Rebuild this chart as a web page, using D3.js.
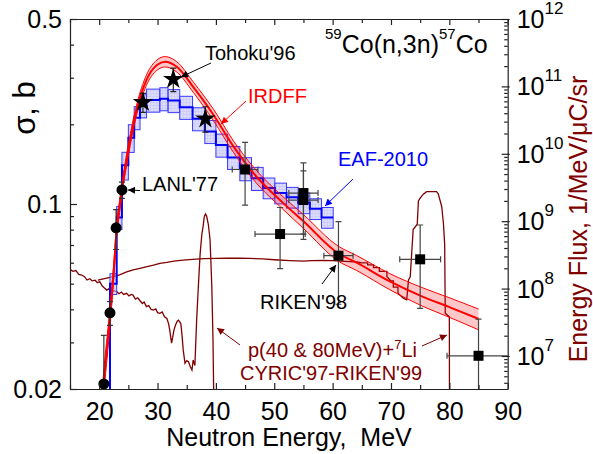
<!DOCTYPE html>
<html>
<head>
<meta charset="utf-8">
<script src="https://cdn.jsdelivr.net/npm/d3@7"></script>
<style>
body { margin: 0; background: #fff; }
text { font-family: "Liberation Sans", Arial, sans-serif; }
</style>
</head>
<body>
<script>
// IRDFF evaluation: energy (MeV), cross section (b), relative uncertainty
var irdE = [20.6, 21.0, 21.5, 22.0, 22.5, 23.0, 23.5, 24.0, 25.0, 26.4, 28.1, 29.9, 31.3, 33.3, 36.1, 39.6, 43.0, 46.4, 51.5, 55.0, 61.0, 64.1, 69.8, 75.5, 80.1, 85.0];
var irdV = [0.019, 0.024, 0.031, 0.041, 0.056, 0.080, 0.098, 0.118, 0.160, 0.226, 0.294, 0.335, 0.345, 0.330, 0.277, 0.217, 0.165, 0.131, 0.101, 0.086, 0.065, 0.060, 0.051, 0.0446, 0.0407, 0.0368];
var irdU = [0.10, 0.10, 0.09, 0.08, 0.07, 0.06, 0.055, 0.05, 0.05, 0.045, 0.045, 0.045, 0.045, 0.045, 0.045, 0.05, 0.05, 0.055, 0.055, 0.06, 0.065, 0.065, 0.07, 0.08, 0.085, 0.09];

// EAF-2010 group-wise: bin edges (MeV), values (b), relative uncertainty
var eafEdges = [20.0, 21.85, 23.0, 23.9, 25.0, 26.0, 27.0, 28.1, 30.4, 31.8, 33.8, 36.0, 38.1, 40.0, 42.0, 44.1, 46.1, 48.1, 50.1, 52.1, 54.1, 56.1, 58.1, 60.1];
var eafV = [0.010, 0.050, 0.089, 0.140, 0.178, 0.212, 0.235, 0.247, 0.250, 0.246, 0.232, 0.210, 0.188, 0.167, 0.150, 0.136, 0.125, 0.115, 0.110, 0.106, 0.101, 0.096, 0.089];
var eafU = [0.10, 0.09, 0.10, 0.12, 0.12, 0.10, 0.10, 0.10, 0.10, 0.10, 0.10, 0.10, 0.10, 0.10, 0.10, 0.10, 0.10, 0.09, 0.09, 0.09, 0.09, 0.09, 0.09];

// Tohoku'96 (stars)
var tohE = [27.5, 32.7, 38.2];
var tohV = [0.242, 0.296, 0.210];
var tohErr = [0.020, 0.030, 0.023];

// LANL'77 (circles)
var lanlE = [20.8, 21.85, 22.9, 23.9];
var lanlV = [0.0209, 0.0388, 0.0813, 0.113];
var lanlErr = [0.011, 0.004, 0.014, 0.008];

// RIKEN / CYRIC measurements (squares)
var sqE = [45.0, 51.0, 55.0, 55.0, 61.0, 75.0, 85.0];
var sqV = [0.135, 0.077, 0.110, 0.1035, 0.0638, 0.0618, 0.0267];
var sqErrY = [0.036, 0.020, 0.033, 0.030, 0.022, 0.0215, 0.010];
var sqErrX = [2.2, 4.3, 2.5, 2.5, 2.5, 3.5, 5.4];

// neutron spectra, p(40 MeV)+7Li and p(80 MeV)+7Li (1/MeV/uC/sr)
var p40E = [15.0, 15.5, 16.0, 16.5, 17.0, 17.5, 17.9, 18.4, 18.8, 19.3, 19.7, 20.1, 20.5, 20.9, 21.3, 21.7, 22.1, 22.5, 23.0, 23.4, 23.8, 24.2, 24.7, 25.1, 25.5, 25.8, 26.2, 26.6, 27.0, 27.4, 27.7, 28.1, 28.5, 28.9, 29.3, 29.7, 30.0, 30.4, 30.8, 31.2, 31.6, 31.9, 32.1, 32.4, 32.6, 32.8, 33.1, 33.4, 33.6, 33.8, 34.0, 34.2, 34.4, 34.7, 35.0, 35.3, 35.6, 35.9, 36.1, 36.4, 36.7, 37.0, 37.3, 37.6, 37.8, 38.0, 38.2, 38.4, 38.7, 39.0, 39.3, 39.5, 39.6, 39.7];
var p40F = [1.93e8, 1.80e8, 1.85e8, 1.62e8, 1.59e8, 1.50e8, 1.34e8, 1.40e8, 1.30e8, 1.33e8, 1.22e8, 1.27e8, 1.10e8, 1.02e8, 0.95e8, 1.00e8, 0.88e8, 0.93e8, 0.90e8, 0.84e8, 0.89e8, 0.82e8, 0.85e8, 0.78e8, 0.82e8, 0.80e8, 0.70e8, 0.73e8, 0.66e8, 0.60e8, 0.63e8, 0.54e8, 0.56e8, 0.49e8, 0.48e8, 0.50e8, 0.44e8, 0.43e8, 0.45e8, 0.38e8, 0.36e8, 0.30e8, 0.24e8, 0.155e8, 0.19e8, 0.24e8, 0.29e8, 0.33e8, 0.34e8, 0.32e8, 0.30e8, 0.20e8, 0.123e8, 0.078e8, 0.085e8, 0.082e8, 0.070e8, 0.062e8, 0.087e8, 0.072e8, 0.34e8, 1.1e8, 3.3e8, 6.5e8, 8.3e8, 1.15e9, 1.28e9, 1.2e9, 9.0e8, 5.3e8, 1.07e8, 1.8e7, 3.9e6, 1.0e6];
var p80E = [19.8, 20.5, 21.5, 22.4, 23.5, 24.6, 25.8, 27.0, 28.2, 29.3, 30.4, 31.6, 32.8, 34.4, 36.0, 38.0, 40.1, 42.0, 44.0, 45.8, 48.0, 50.0, 52.7, 55.0, 56.5, 58.4, 60.0, 61.3, 63.0, 64.1, 65.0, 66.0, 66.0, 67.0, 67.0, 68.0, 68.0, 69.3, 69.3, 70.0, 70.4, 70.4, 71.2, 71.2, 72.1, 72.7, 73.0, 73.3, 73.8, 74.5, 74.7, 75.0, 75.5, 76.1, 77.8, 78.1, 78.7, 79.0, 79.2, 79.3, 80.0, 80.05];
var p80F = [1.34e8, 1.38e8, 1.44e8, 1.50e8, 1.60e8, 1.75e8, 1.89e8, 2.00e8, 2.12e8, 2.22e8, 2.37e8, 2.45e8, 2.55e8, 2.65e8, 2.72e8, 2.78e8, 2.80e8, 2.82e8, 2.82e8, 2.80e8, 2.75e8, 2.68e8, 2.60e8, 2.55e8, 2.60e8, 2.62e8, 2.60e8, 2.56e8, 2.52e8, 2.48e8, 2.40e8, 2.40e8, 2.25e8, 2.25e8, 2.05e8, 2.05e8, 1.80e8, 1.80e8, 1.50e8, 1.30e8, 1.30e8, 1.05e8, 1.05e8, 0.85e8, 0.72e8, 0.68e8, 1.34e8, 1.5e8, 7.5e8, 9.0e8, 2.0e9, 2.2e9, 2.5e9, 2.74e9, 2.74e9, 2.55e9, 1.64e9, 9.0e8, 4.5e8, 4.3e7, 3.8e7, 1.0e5];

// axis ticks
var xMajor = [20, 30, 40, 50, 60, 70, 80, 90];
var xMinor = [15, 25, 35, 45, 55, 65, 75, 85];
var yLabels = [0.02, 0.1, 0.5];
var fluxMajor = [1e7, 1e8, 1e9, 1e10, 1e11, 1e12];
var fluxExp = ['7', '8', '9', '10', '11', '12'];

var W = 593, H = 454;
var pL = 70, pR = 507.7, pT = 19, pB = 389;
var font = '"Liberation Sans", Arial, sans-serif';
var darkRed = '#800000';

var x = d3.scaleLinear().domain([15, 90]).range([pL, pR]);
var y = d3.scaleLog().domain([0.02, 0.5]).range([pB, pT]);
var yR = d3.scaleLog().domain([Math.pow(10, 6.51), 1e12]).range([pB, pT]);

var svg = d3.select('body').append('svg')
  .attr('width', W)
  .attr('height', H);

var defs = svg.append('defs');
defs.append('clipPath').attr('id', 'clip')
  .append('rect')
  .attr('x', pL).attr('y', pT)
  .attr('width', pR - pL).attr('height', pB - pT);

// fine grid texture for EAF boxes
var pat = defs.append('pattern').attr('id', 'eafPat')
  .attr('width', 3).attr('height', 3)
  .attr('patternUnits', 'userSpaceOnUse');
pat.append('rect').attr('width', 3).attr('height', 3).attr('fill', '#c4c4fa');
pat.append('path').attr('d', 'M0,0.5H3M0.5,0V3').attr('stroke', '#a4a4f4').attr('stroke-width', 0.6);

// arrow heads
[['arBlack', '#000'], ['arRed', '#ff0000'], ['arBlue', '#0000ff'], ['arDark', darkRed]].forEach(function (m) {
  defs.append('marker').attr('id', m[0])
    .attr('viewBox', '0 0 10 10')
    .attr('refX', 10).attr('refY', 5)
    .attr('markerWidth', 9).attr('markerHeight', 7)
    .attr('markerUnits', 'userSpaceOnUse')
    .attr('orient', 'auto')
    .append('path').attr('d', 'M0,0L10,5L0,10z').attr('fill', m[1]);
});

var plot = svg.append('g').attr('clip-path', 'url(#clip)');

// neutron spectra (right axis)
var fluxLine = d3.line().x(function (d) { return x(d[0]); }).y(function (d) { return yR(d[1]); });
plot.append('path').datum(d3.zip(p40E, p40F))
  .attr('d', fluxLine).attr('fill', 'none')
  .attr('stroke', darkRed).attr('stroke-width', 1.3);
plot.append('path').datum(d3.zip(p80E, p80F))
  .attr('d', fluxLine).attr('fill', 'none')
  .attr('stroke', darkRed).attr('stroke-width', 1.3);

// EAF-2010 boxes and central step line
var eafBins = eafV.map(function (v, i) {
  return { e0: eafEdges[i], e1: eafEdges[i + 1], v: v, u: eafU[i] };
});
plot.selectAll('rect.eaf').data(eafBins).enter().append('rect')
  .attr('class', 'eaf')
  .attr('x', function (d) { return x(d.e0); })
  .attr('width', function (d) { return x(d.e1) - x(d.e0); })
  .attr('y', function (d) { return y(d.v * (1 + d.u)); })
  .attr('height', function (d) { return y(d.v * (1 - d.u)) - y(d.v * (1 + d.u)); })
  .attr('fill', 'url(#eafPat)').attr('fill-opacity', 0.6)
  .attr('stroke', '#3a3aff').attr('stroke-width', 1);

var eafPts = eafBins.map(function (d) { return [d.e0, d.v]; });
eafPts.push([eafEdges[eafEdges.length - 1], eafV[eafV.length - 1]]);
plot.append('path').datum(eafPts)
  .attr('d', d3.line().curve(d3.curveStepAfter)
    .x(function (d) { return x(d[0]); })
    .y(function (d) { return y(d[1]); }))
  .attr('fill', 'none').attr('stroke', '#0000ff').attr('stroke-width', 2);

// IRDFF band
var ird = irdE.map(function (e, i) { return { e: e, v: irdV[i], u: irdU[i] }; });
plot.append('path').datum(ird)
  .attr('d', d3.area().curve(d3.curveMonotoneX)
    .x(function (d) { return x(d.e); })
    .y0(function (d) { return y(d.v * (1 - d.u)); })
    .y1(function (d) { return y(d.v * (1 + d.u)); }))
  .attr('fill', '#ff0000').attr('fill-opacity', 0.22);
[1, -1].forEach(function (s) {
  plot.append('path').datum(ird)
    .attr('d', d3.line().curve(d3.curveMonotoneX)
      .x(function (d) { return x(d.e); })
      .y(function (d) { return y(d.v * (1 + s * d.u)); }))
    .attr('fill', 'none').attr('stroke', '#ff0000').attr('stroke-width', 1);
});
plot.append('path').datum(ird)
  .attr('d', d3.line().curve(d3.curveMonotoneX)
    .x(function (d) { return x(d.e); })
    .y(function (d) { return y(d.v); }))
  .attr('fill', 'none').attr('stroke', '#ff0000').attr('stroke-width', 2);

// error bars helper
function vbar(g, xv, lo, hi, col) {
  g.append('line').attr('x1', x(xv)).attr('x2', x(xv)).attr('y1', y(lo)).attr('y2', y(hi))
    .attr('stroke', col).attr('stroke-width', 1.2);
  [lo, hi].forEach(function (v) {
    g.append('line').attr('x1', x(xv) - 3).attr('x2', x(xv) + 3).attr('y1', y(v)).attr('y2', y(v))
      .attr('stroke', col).attr('stroke-width', 1.2);
  });
}
function hbar(g, yv, lo, hi, col) {
  g.append('line').attr('x1', x(lo)).attr('x2', x(hi)).attr('y1', y(yv)).attr('y2', y(yv))
    .attr('stroke', col).attr('stroke-width', 1.2);
  [lo, hi].forEach(function (v) {
    g.append('line').attr('x1', x(v)).attr('x2', x(v)).attr('y1', y(yv) - 3).attr('y2', y(yv) + 3)
      .attr('stroke', col).attr('stroke-width', 1.2);
  });
}

var pts = plot.append('g');
sqE.forEach(function (e, i) {
  vbar(pts, e, sqV[i] - sqErrY[i], sqV[i] + sqErrY[i], '#444');
  hbar(pts, sqV[i], e - sqErrX[i], e + sqErrX[i], '#444');
});
tohE.forEach(function (e, i) { vbar(pts, e, tohV[i] - tohErr[i], tohV[i] + tohErr[i], '#222'); });
lanlE.forEach(function (e, i) { vbar(pts, e, lanlV[i] - lanlErr[i], lanlV[i] + lanlErr[i], '#333'); });

pts.selectAll('rect.sq').data(d3.zip(sqE, sqV)).enter().append('rect')
  .attr('x', function (d) { return x(d[0]) - 5; })
  .attr('y', function (d) { return y(d[1]) - 5; })
  .attr('width', 10).attr('height', 10).attr('fill', '#000');
pts.selectAll('circle').data(d3.zip(lanlE, lanlV)).enter().append('circle')
  .attr('cx', function (d) { return x(d[0]); })
  .attr('cy', function (d) { return y(d[1]); })
  .attr('r', 5.5).attr('fill', '#000');
pts.selectAll('path.star').data(d3.zip(tohE, tohV)).enter().append('path')
  .attr('transform', function (d) { return 'translate(' + x(d[0]) + ',' + y(d[1]) + ')'; })
  .attr('d', d3.symbol(d3.symbolStar).size(130)).attr('fill', '#000');

// axes
function styleAxis(g) {
  g.attr('font-family', font).attr('font-size', 25);
  g.selectAll('line').attr('stroke', '#222').attr('stroke-width', 1.2);
  g.select('.domain').attr('stroke', '#222').attr('stroke-width', 1.2);
  g.selectAll('text').attr('fill', '#000');
}
function isMajorX(d) { return xMajor.indexOf(d) >= 0; }

var gB = svg.append('g').attr('transform', 'translate(0,' + pB + ')')
  .call(d3.axisBottom(x).tickValues(xMajor.concat(xMinor)).tickSize(-6).tickSizeOuter(0).tickPadding(13)
    .tickFormat(function (d) { return isMajorX(d) ? d : ''; }));
styleAxis(gB);
gB.selectAll('.tick line').attr('y2', function (d) { return isMajorX(d) ? -6 : -4; });

var gT = svg.append('g').attr('transform', 'translate(0,' + pT + ')')
  .call(d3.axisTop(x).tickValues(xMajor.concat(xMinor)).tickSize(-6).tickSizeOuter(0).tickFormat(''));
styleAxis(gT);
gT.selectAll('.tick line').attr('y2', function (d) { return isMajorX(d) ? 6 : 4; });

var gL = svg.append('g').attr('transform', 'translate(' + pL + ',0)')
  .call(d3.axisLeft(y).tickValues(y.ticks()).tickSize(-6).tickSizeOuter(0).tickPadding(8)
    .tickFormat(function (d) { return yLabels.indexOf(d) >= 0 ? String(d) : ''; }));
styleAxis(gL);
gL.selectAll('.tick line').attr('x2', function (d) { return yLabels.indexOf(d) >= 0 ? 7 : 4; });

var gR = svg.append('g').attr('transform', 'translate(' + pR + ',0)')
  .call(d3.axisRight(yR).tickValues(yR.ticks()).tickSize(-4).tickSizeOuter(0).tickFormat(''));
styleAxis(gR);
gR.selectAll('.tick line')
  .attr('x1', function (d) { return fluxMajor.indexOf(d) >= 0 ? 2 : 0; })
  .attr('x2', function (d) { return fluxMajor.indexOf(d) >= 0 ? -6 : -3.5; });

var rl = svg.append('g').attr('font-family', font);
fluxMajor.forEach(function (v, i) {
  var t = rl.append('text').attr('x', pR + 9).attr('y', yR(v) + 9).attr('font-size', 25);
  t.append('tspan').text('10');
  t.append('tspan').attr('font-size', 17).attr('dy', -14).text(fluxExp[i]);
});

// axis titles
svg.append('text').attr('x', 289).attr('y', 446)
  .attr('text-anchor', 'middle').attr('font-family', font).attr('font-size', 25)
  .attr('xml:space', 'preserve')
  .text('Neutron Energy,  MeV');
svg.append('text').attr('transform', 'translate(35,108) rotate(-90)')
  .attr('text-anchor', 'middle').attr('font-family', font).attr('font-size', 31)
  .text('σ, b');
svg.append('text').attr('transform', 'translate(587,219) rotate(-90)')
  .attr('text-anchor', 'middle').attr('font-family', font).attr('font-size', 25)
  .attr('fill', darkRed)
  .text('Energy Flux, 1/MeV/μC/sr');

// reaction title
var tt = svg.append('text').attr('font-family', font).attr('x', 325).attr('y', 53);
tt.append('tspan').attr('font-size', 15).attr('y', 39).text('59');
tt.append('tspan').attr('font-size', 25).attr('y', 53).text('Co(n,3n)');
tt.append('tspan').attr('font-size', 15).attr('y', 39).text('57');
tt.append('tspan').attr('font-size', 25).attr('y', 53).text('Co');

// annotations
var ann = svg.append('g').attr('font-family', font).attr('font-size', 20);
function arrow(x1, y1, x2, y2, col, mk) {
  ann.append('line').attr('x1', x1).attr('y1', y1).attr('x2', x2).attr('y2', y2)
    .attr('stroke', col).attr('stroke-width', 1).attr('marker-end', 'url(#' + mk + ')');
}
ann.append('text').attr('x', 205).attr('y', 60).text("Tohoku'96");
arrow(211, 63, 181, 77, '#000', 'arBlack');
ann.append('text').attr('x', 248).attr('y', 103).attr('fill', '#ff0000').text('IRDFF');
arrow(246, 101, 221, 124, '#ff0000', 'arRed');
ann.append('text').attr('x', 142).attr('y', 191).text("LANL'77");
arrow(140, 190.5, 128, 190, '#000', 'arBlack');
ann.append('text').attr('x', 338).attr('y', 166).attr('fill', '#0000ff').text('EAF-2010');
arrow(353, 179, 325, 206, '#0000ff', 'arBlue');
ann.append('text').attr('x', 260).attr('y', 309).text("RIKEN'98");
arrow(322, 284, 336, 265, '#000', 'arBlack');

var pl = ann.append('text').attr('x', 248).attr('y', 357).attr('fill', darkRed);
pl.append('tspan').text('p(40 & 80MeV)+');
pl.append('tspan').attr('font-size', 13).attr('dy', -8).text('7');
pl.append('tspan').attr('dy', 8).text('Li');
ann.append('text').attr('x', 240).attr('y', 380).attr('fill', darkRed).text("CYRIC'97-RIKEN'99");
arrow(240, 345, 217, 328, darkRed, 'arDark');
arrow(422, 346, 447, 335, darkRed, 'arDark');
</script>
</body>
</html>
